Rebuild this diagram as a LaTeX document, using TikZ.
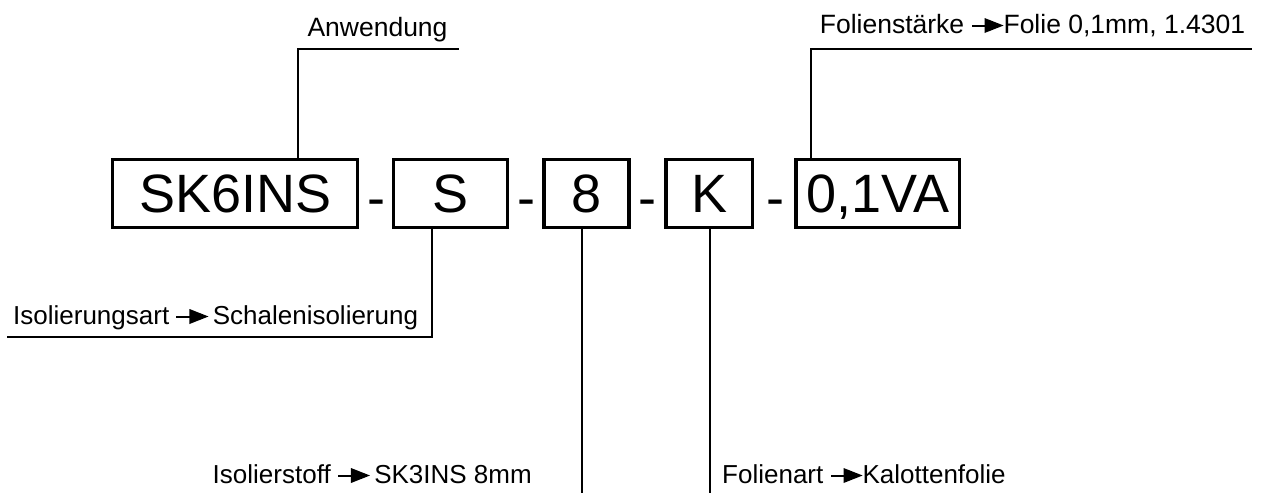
\documentclass[tikz,border=0pt]{standalone}
\usepackage{fontspec}
\setmainfont{Liberation Sans}
\newcommand{\arr}{\tikz[baseline=0pt,x=1pt,y=1pt]{\fill[black] (0pt,6.5pt) rectangle (14pt,8.5pt); \fill[black] (13pt,0pt) -- (32pt,7.5pt) -- (13pt,15pt) -- cycle;}}
\tikzset{
  codebox/.style={draw=black, line width=3.5pt, inner sep=0pt, minimum height=68.4pt,
    font=\fontsize{54}{60}\selectfont, text height=38.5pt, text depth=0pt},
  dashtxt/.style={inner sep=0pt, anchor=base, font=\fontsize{54}{60}\selectfont},
  lbl/.style={inner sep=0pt, font=\fontsize{26.5}{30}\selectfont},
  lblsm/.style={inner sep=0pt, font=\fontsize{26}{30}\selectfont},
  leader/.style={draw=black, line width=1.3pt}
}
\begin{document}
\begin{tikzpicture}[x=1pt,y=-1pt]
\useasboundingbox (0,0) rectangle (1262,493);
% code boxes
\node[codebox, minimum width=245pt] (b1) at (235.2,193.5) {SK6INS};
\node[codebox, minimum width=114pt] (b2) at (450.3,193.5) {S};
\node[codebox, minimum width=85pt] (b3) at (586.5,193.5) {8};
\node[codebox, minimum width=86.7pt] (b4) at (709.3,193.5) {K};
\node[codebox, minimum width=163.3pt] (b5) at (877.7,193.5) {0,1VA};
% dashes
\node[dashtxt] (d1) at (376,216) {-};
\node[dashtxt] (d2) at (526,216) {-};
\node[dashtxt] (d3) at (647,216) {-};
\node[dashtxt] (d4) at (775,216) {-};
% labels
\node[lbl, anchor=base] (lanw) at (377.5,36) {Anwendung};
\node[lbl, anchor=base] (lfst) at (1032.5,33) {Folienstärke \arr{}Folie 0,1mm, 1.4301};
\node[lblsm, anchor=base west] (liso) at (13,324) {Isolierungsart \arr\,Schalenisolierung};
\node[lblsm, anchor=base east] (lstf) at (532,483) {Isolierstoff \arr\,SK3INS 8mm};
\node[lblsm, anchor=base west] (lfol) at (722,483) {Folienart \arr{}Kalottenfolie};
% leader coordinates
\coordinate (c1) at (298,49);   \coordinate (e1) at (459,49);
\coordinate (c5) at (811,49);   \coordinate (e5) at (1252,49);
\coordinate (c2) at (432,337);  \coordinate (e2) at (7,337);
\coordinate (e3) at (582,493);
\coordinate (e4) at (710,493);
% leaders
\draw[leader] (c1 |- b1.north) -- (c1) -- (e1);
\draw[leader] (c5 |- b5.north) -- (c5) -- (e5);
\draw[leader] (c2 |- b2.south) -- (c2) -- (e2);
\draw[leader] (e3 |- b3.south) -- (e3);
\draw[leader] (e4 |- b4.south) -- (e4);
\end{tikzpicture}
\end{document}
